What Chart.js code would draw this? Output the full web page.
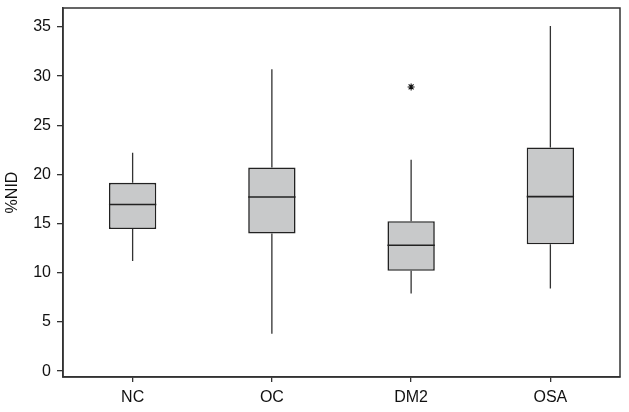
<!DOCTYPE html>
<html>
<head>
<meta charset="utf-8">
<script src="https://cdn.jsdelivr.net/npm/chart.js@4/dist/chart.umd.min.js"></script>
<style>
  html, body { margin: 0; padding: 0; background: #fff; }
  #wrap { width: 629px; height: 412px; }
</style>
</head>
<body>
<div id="wrap"><canvas id="c" width="629" height="412"></canvas></div>
<script>
const categories = ["NC", "OC", "DM2", "OSA"];
const whiskerLow  = [11.2, 3.8, 7.9, 8.4];
const q1          = [14.45, 14.0, 10.2, 12.9];
const median      = [16.95, 17.7, 12.8, 17.75];
const q3          = [19.15, 20.7, 15.25, 22.75];
const whiskerHigh = [22.2, 30.7, 21.5, 35.1];
const outliers    = [null, null, 28.9, null];
const yTicks = [0, 5, 10, 15, 20, 25, 30, 35];

const boxData = categories.map((c, i) => [q1[i], q3[i]]);
const FONT = 'Liberation Sans, Arial, Helvetica, sans-serif';

const boxPlugin = {
  id: 'boxExtras',
  beforeDatasetsDraw(chart) {
    const ctx = chart.ctx;
    const y = chart.scales.y;
    const meta = chart.getDatasetMeta(0);
    ctx.save();
    ctx.strokeStyle = '#333';
    ctx.lineWidth = 1.3;
    meta.data.forEach((bar, i) => {
      const x = bar.x;
      ctx.beginPath();
      ctx.moveTo(x, y.getPixelForValue(whiskerHigh[i]));
      ctx.lineTo(x, y.getPixelForValue(q3[i]));
      ctx.moveTo(x, y.getPixelForValue(q1[i]));
      ctx.lineTo(x, y.getPixelForValue(whiskerLow[i]));
      ctx.stroke();
    });
    ctx.restore();
  },
  afterDatasetsDraw(chart) {
    const ctx = chart.ctx;
    const y = chart.scales.y;
    const meta = chart.getDatasetMeta(0);
    ctx.save();
    ctx.strokeStyle = '#222';
    ctx.lineWidth = 1.6;
    meta.data.forEach((bar, i) => {
      const half = bar.width / 2;
      const py = y.getPixelForValue(median[i]);
      ctx.beginPath();
      ctx.moveTo(bar.x - half, py);
      ctx.lineTo(bar.x + half, py);
      ctx.stroke();
    });
    ctx.restore();
  },
  afterDraw(chart) {
    const a = chart.chartArea;
    const ctx = chart.ctx;
    ctx.save();
    ctx.strokeStyle = '#333';
    ctx.lineWidth = 1.5;
    ctx.strokeRect(a.left, a.top, a.right - a.left, a.bottom - a.top);
    ctx.restore();
  }
};

new Chart(document.getElementById('c'), {
  type: 'bar',
  data: {
    labels: categories,
    datasets: [
      {
        data: boxData,
        backgroundColor: '#c8c9ca',
        borderColor: '#222',
        borderWidth: 1.6,
        borderSkipped: false,
        categoryPercentage: 1.0,
        barPercentage: 0.34
      },
      {
        type: 'line',
        data: outliers,
        showLine: false,
        pointStyle: 'star',
        pointRadius: 3.5,
        pointBorderWidth: 1.1,
        pointBorderColor: '#111',
        pointBackgroundColor: '#111'
      }
    ]
  },
  options: {
    responsive: false,
    animation: false,
    devicePixelRatio: 1,
    layout: { padding: { top: 8, right: 9, left: 0, bottom: 0 } },
    plugins: { legend: { display: false }, tooltip: { enabled: false } },
    scales: {
      x: {
        grid: { display: true, offset: false, drawOnChartArea: false, drawTicks: true, tickLength: 5, color: '#333', lineWidth: 1.3 },
        border: { display: true, color: '#333', width: 1.5 },
        ticks: { color: '#111', font: { family: FONT, size: 16 }, padding: 6 },
        afterFit(s) { s.height = 35; s.paddingLeft = 0; s.paddingRight = 0; }
      },
      y: {
        min: -0.6,
        max: 36.93,
        afterBuildTicks(s) { s.ticks = yTicks.map(v => ({ value: v })); },
        grid: { display: true, drawOnChartArea: false, drawTicks: true, tickLength: 6, color: '#333', lineWidth: 1.3 },
        border: { display: true, color: '#333', width: 1.5 },
        ticks: { color: '#111', font: { family: FONT, size: 16 }, padding: 6 },
        title: { display: true, text: '%NID', color: '#111', font: { family: FONT, size: 16 }, padding: { top: 3, bottom: 0 } },
        afterFit(s) { s.width = 63; s.paddingTop = 0; s.paddingBottom = 0; }
      }
    }
  },
  plugins: [boxPlugin]
});
</script>
</body>
</html>
